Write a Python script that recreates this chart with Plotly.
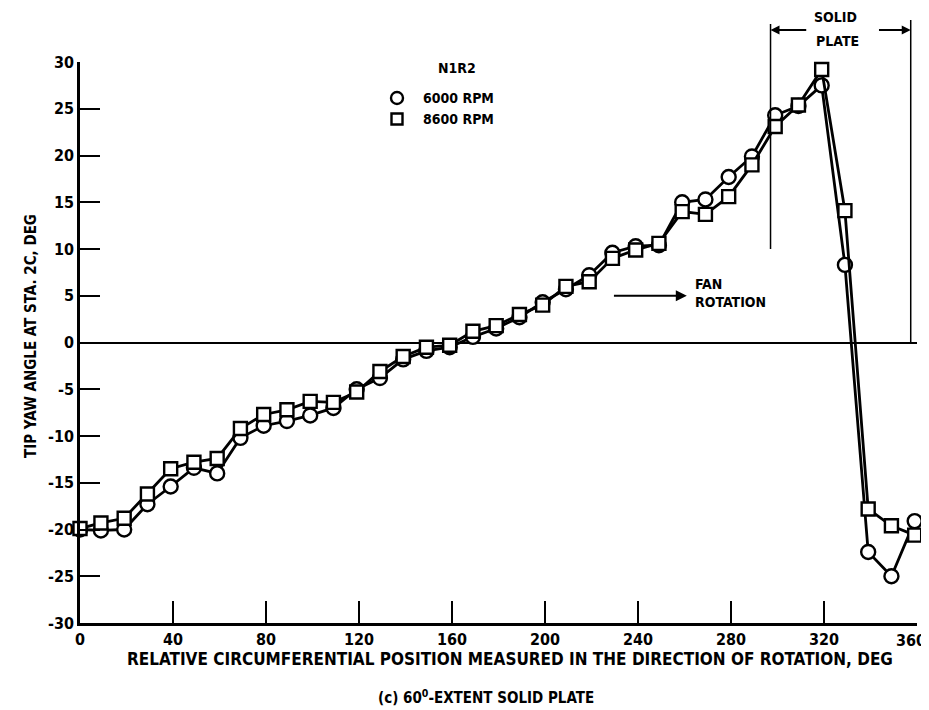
import plotly.graph_objects as go

# ---------------- data ----------------
positions = [0, 9, 19, 29, 39, 49, 59, 69, 79, 89, 99, 109, 119, 129, 139, 149, 159, 169,
             179, 189, 199, 209, 219, 229, 239, 249, 259, 269, 279, 289, 299, 309, 319,
             329, 339, 349, 359]
yaw_6000 = [-20.0, -20.1, -20.0, -17.3, -15.4, -13.4, -14.0, -10.2, -8.9, -8.4, -7.8, -7.0,
            -5.0, -3.8, -1.8, -0.9, -0.5, 0.6, 1.5, 2.7, 4.3, 5.7, 7.2, 9.6, 10.3, 10.4,
            15.0, 15.3, 17.7, 19.9, 24.3, 25.3, 27.5, 8.3, -22.4, -25.0, -19.1]
yaw_8600 = [-19.9, -19.3, -18.8, -16.2, -13.5, -12.8, -12.4, -9.2, -7.7, -7.2, -6.3, -6.4,
            -5.3, -3.1, -1.5, -0.5, -0.3, 1.2, 1.8, 3.0, 4.0, 6.0, 6.5, 9.0, 9.9, 10.6,
            14.0, 13.7, 15.6, 19.0, 23.1, 25.4, 29.2, 14.1, -17.8, -19.6, -20.6]
series_names = ["6000 RPM", "8600 RPM"]
x_ticks = [0, 40, 80, 120, 160, 200, 240, 280, 320, 360]
x_tick_text = ["0", "40", "80", "120", "160", "200", "240", "280", "320", ""]
last_x_label = "360"
y_ticks = [30, 25, 20, 15, 10, 5, 0, -5, -10, -15, -20, -25, -30]
y_tick_text = ["30", "25", "20", "15", "10", "5", "0", "-5", "-10", "-15", "-20", "-25", "-30"]
plate_start, plate_end = 297, 357.3

Y_MIN, Y_MAX = -30, 30
FONT = "DejaVu Sans Condensed, Liberation Sans Narrow, sans-serif"

# page offset (browser body margin) and plot-area geometry in screen pixels
OFF = 8
W, H = 929 - OFF, 710 - OFF
L, R, T, B = 80, 917, 62, 623


def px(xpix):
    return (xpix - L) / (R - L)


def py(ypix):
    return (B - ypix) / (B - T)


def ypaper(v):
    return (v - Y_MIN) / (Y_MAX - Y_MIN)


def tf(size):
    return dict(family=FONT, size=size, color="black", weight="bold")


fig = go.Figure()
fig.add_trace(go.Scatter(
    x=positions, y=yaw_6000, mode="lines+markers", name=series_names[0],
    line=dict(color="black", width=2.8),
    marker=dict(symbol="circle", size=14, color="white", line=dict(color="black", width=2.4)),
    cliponaxis=False, showlegend=False))
fig.add_trace(go.Scatter(
    x=positions, y=yaw_8600, mode="lines+markers", name=series_names[1],
    line=dict(color="black", width=2.8),
    marker=dict(symbol="square", size=13, color="white", line=dict(color="black", width=2.4)),
    cliponaxis=False, showlegend=False))

shapes = [
    # solid plate bracket lines
    dict(type="line", xref="x", yref="paper", x0=plate_start, x1=plate_start,
         y0=py(24), y1=ypaper(10), line=dict(color="black", width=1.5)),
    dict(type="line", xref="x", yref="paper", x0=plate_end, x1=plate_end,
         y0=py(20), y1=ypaper(0), line=dict(color="black", width=1.5)),
    # legend keys
    dict(type="circle", xref="paper", yref="paper",
         x0=px(391), x1=px(403), y0=py(104), y1=py(92), line=dict(color="black", width=2.4),
         fillcolor="white"),
    dict(type="rect", xref="paper", yref="paper",
         x0=px(391.5), x1=px(402.5), y0=py(124.5), y1=py(113.5), line=dict(color="black", width=2.4),
         fillcolor="white"),
]

annotations = [
    dict(text="N1R2", xref="paper", yref="paper", x=px(457), y=py(68), showarrow=False,
         font=tf(14), xanchor="center", yanchor="middle"),
    dict(text=series_names[0], xref="paper", yref="paper", x=px(421), y=py(98), showarrow=False,
         font=tf(14), xanchor="left", yanchor="middle"),
    dict(text=series_names[1], xref="paper", yref="paper", x=px(421), y=py(119), showarrow=False,
         font=tf(14), xanchor="left", yanchor="middle"),
    dict(text="SOLID", xref="paper", yref="paper", x=px(835), y=py(17), showarrow=False,
         font=tf(14), xanchor="center", yanchor="middle"),
    dict(text="PLATE", xref="paper", yref="paper", x=px(837), y=py(41), showarrow=False,
         font=tf(14), xanchor="center", yanchor="middle"),
    # bracket arrows
    dict(text="", xref="x", yref="paper", x=plate_start, y=py(30), ax=313, ay=0,
         axref="x", ayref="pixel", showarrow=True, arrowhead=2, arrowsize=1,
         arrowwidth=1.8, arrowcolor="black"),
    dict(text="", xref="x", yref="paper", x=plate_end, y=py(30), ax=343, ay=0,
         axref="x", ayref="pixel", showarrow=True, arrowhead=2, arrowsize=1,
         arrowwidth=1.8, arrowcolor="black"),
    # fan rotation
    dict(text="", xref="x", yref="y", x=261, y=5.0, ax=229, ay=5.0, axref="x", ayref="y",
         showarrow=True, arrowhead=2, arrowsize=1, arrowwidth=2.2, arrowcolor="black"),
    dict(text="FAN<br>ROTATION", xref="paper", yref="paper", x=px(693), y=py(293),
         showarrow=False, align="left", xanchor="left", yanchor="middle", font=tf(14)),
    # last x tick label (kept inside the page)
    dict(text=last_x_label, xref="paper", yref="paper", x=px(928), y=py(640),
         showarrow=False, xanchor="right", yanchor="middle", font=tf(16)),
    # axis titles
    dict(text="RELATIVE CIRCUMFERENTIAL POSITION MEASURED IN THE DIRECTION OF ROTATION, DEG",
         xref="paper", yref="paper", x=px(510), y=py(659),
         showarrow=False, xanchor="center", yanchor="middle", font=tf(17)),
    dict(text="(c) 60<sup>0</sup>-EXTENT SOLID PLATE",
         xref="paper", yref="paper", x=px(486), y=py(697),
         showarrow=False, xanchor="center", yanchor="middle", font=tf(15)),
    dict(text="TIP YAW ANGLE AT STA. 2C, DEG", textangle=-90,
         xref="paper", yref="paper", x=px(31), y=py(336),
         showarrow=False, xanchor="center", yanchor="middle", font=tf(15)),
]

fig.update_layout(
    width=W, height=H,
    margin=dict(l=L - OFF, r=W - (R - OFF), t=T - OFF, b=H - (B - OFF)),
    paper_bgcolor="white", plot_bgcolor="white",
    font=tf(14), showlegend=False,
    shapes=shapes, annotations=annotations,
    xaxis=dict(range=[0, 360], tickvals=x_ticks, ticktext=x_tick_text,
               ticks="inside", ticklen=22, tickwidth=2,
               tickcolor="black", showline=True, linecolor="black", linewidth=2.5,
               showgrid=False, zeroline=False, tickfont=tf(16), automargin=False),
    yaxis=dict(range=[Y_MIN, Y_MAX], tickvals=y_ticks, ticktext=y_tick_text,
               ticks="inside", ticklen=20, tickwidth=2,
               tickcolor="black", showline=True, linecolor="black", linewidth=2.5,
               showgrid=False, zeroline=True, zerolinecolor="black", zerolinewidth=2,
               tickfont=tf(16), automargin=False),
)

fig.write_html("out.html")
